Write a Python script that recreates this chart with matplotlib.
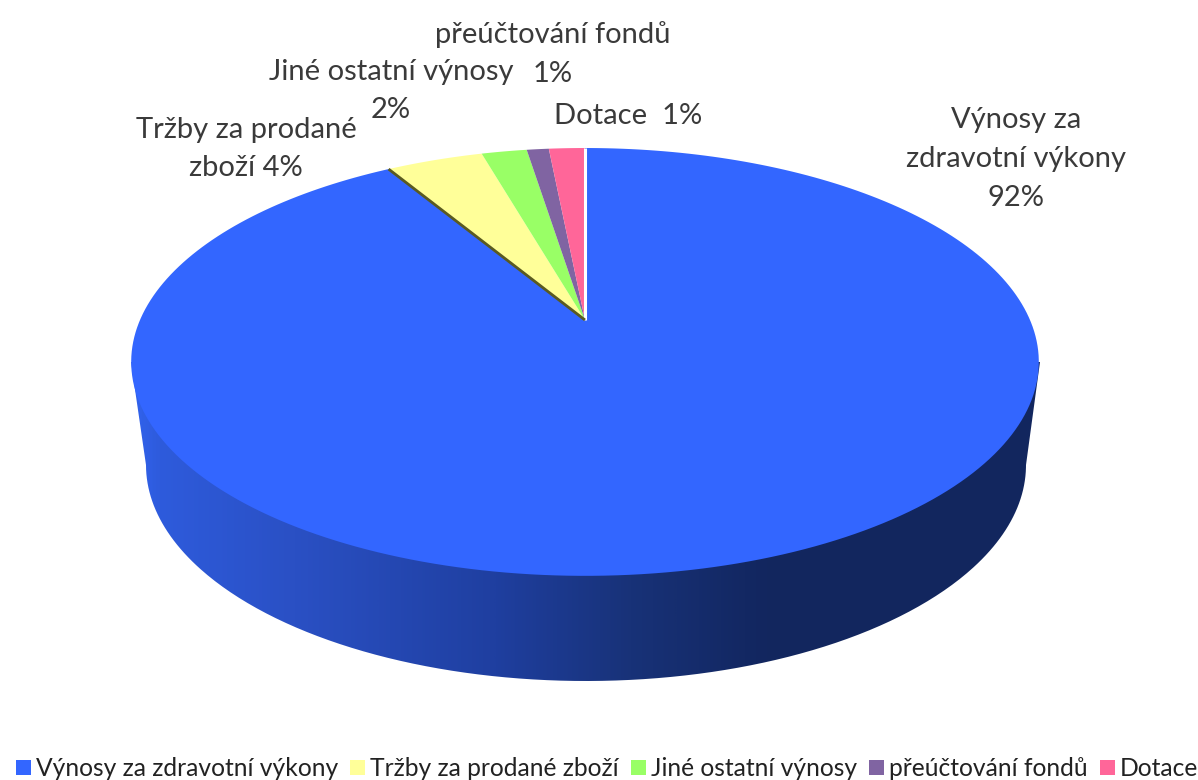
import numpy as np
import matplotlib
matplotlib.use("Agg")
import matplotlib.pyplot as plt
from matplotlib.transforms import Transform, Affine2D
from matplotlib.path import Path
from matplotlib.patches import Patch, PathPatch
from matplotlib.colors import LinearSegmentedColormap

plt.rcParams['font.family'] = ['Lato', 'DejaVu Sans']

categories = ["Výnosy za zdravotní výkony", "Tržby za prodané zboží",
              "Jiné ostatní výnosy", "přeúčtování fondů", "Dotace"]
values = [91.38, 4.17, 1.95, 0.95, 1.55]
slice_colors = ["#3366FF", "#FFFF99", "#99FF66", "#8064A2", "#FF6699"]
side_stops = [(0.0, "#3163EE"), (0.03, "#2E5BDC"), (0.18, "#2A50C4"), (0.40, "#1F3FA0"),
              (0.55, "#183278"), (0.70, "#12265F"), (1.0, "#13275E")]

APEX_X, APEX_Y = 585.0, 320.0
K, S = 0.196, 205.7
T = 445.0


class Perspective(Transform):
    input_dims = output_dims = 2

    def transform_non_affine(self, xy):
        xy = np.asarray(xy, float)
        d = 1 + K * xy[:, 1]
        return np.column_stack([APEX_X + T * xy[:, 0] / d, APEX_Y - S * xy[:, 1] / d])

    def transform_path_non_affine(self, path):
        polys = path.transformed(Affine2D().scale(2000)).to_polygons(closed_only=False)
        pts = np.concatenate(polys) / 2000
        return Path(self.transform_non_affine(pts))


fig = plt.figure(figsize=(11.98, 7.8), dpi=100, facecolor="white")
ax = fig.add_axes([0, 0, 1, 1])
wedges, _ = ax.pie(values, colors=slice_colors, startangle=90, counterclock=False,
                   wedgeprops=dict(linewidth=0))
persp = Perspective()
for w in wedges:
    w.set_transform(persp + ax.transData)
    w.set_zorder(3)
ax.set_aspect('auto')
ax.set_xlim(0, 1198)
ax.set_ylim(780, 0)
ax.axis('off')

# side wall with a horizontal shade
L, R = 131.0, 1040.0
bx, by, ba, bb = 586.0, 465.0, 440.0, 216.0
th = np.linspace(np.pi, 0, 300)
low = np.column_stack([bx + ba * np.cos(th), by + bb * np.sin(th)])
wall = np.vstack([[L, 362.0], low, [R, 362.0], [L, 362.0]])
cmap = LinearSegmentedColormap.from_list("side", side_stops)
im = ax.imshow(np.linspace(0, 1, 512)[None, :], cmap=cmap, aspect='auto',
               extent=(L, R, 690, 350), zorder=2, interpolation='bilinear')
clip = PathPatch(Path(wall), transform=ax.transData, facecolor='none', edgecolor='none')
ax.add_patch(clip)
im.set_clip_path(clip)
ax.set_xlim(0, 1198)
ax.set_ylim(780, 0)


# slice edges: the white one at the top, the dark one beside the yellow slice
def edge_to(frac):
    a = 2 * np.pi * frac
    return persp.transform_non_affine(np.array([[0, 0], [-np.sin(a), np.cos(a)]]))


white = edge_to(0.0)
ax.plot(white[:, 0], white[:, 1], color="white", lw=2.2, zorder=4, solid_capstyle='butt')
dark = edge_to(1 - values[0] / sum(values))
ax.plot(dark[:, 0], dark[:, 1], color="#5A5A20", lw=2.0, zorder=4, solid_capstyle='butt')

# data labels
text_color = "#3A3A3A"
labels = [
    (1016, 159, "Výnosy za\nzdravotní výkony\n92%"),
    (246, 149, "Tržby za prodané\nzboží 4%"),
    (391, 91, "Jiné ostatní výnosy\n2%"),
    (553, 54, "přeúčtování fondů\n1%"),
    (628, 116, "Dotace  1%"),
]
for x, y, s in labels:
    ax.text(x, y, s, ha='center', va='center', fontsize=21, color=text_color,
            linespacing=1.6, zorder=5)

# legend
handles = [Patch(facecolor=c, edgecolor='none') for c in slice_colors]
ax.legend(handles, categories, ncols=5, loc='center', bbox_to_anchor=(0.5067, 0.0145),
          frameon=False, fontsize=17.75, labelcolor="#222222", handlelength=0.6, handleheight=0.6,
          handletextpad=0.2, columnspacing=0.5, borderpad=0, borderaxespad=0)

fig.savefig("out.png", dpi=100, facecolor="white")
